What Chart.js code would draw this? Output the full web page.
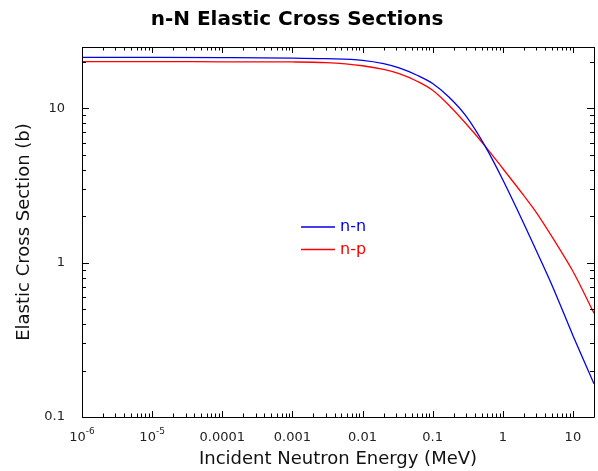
<!DOCTYPE html>
<html>
<head>
<meta charset="utf-8">
<script src="https://cdn.jsdelivr.net/npm/chart.js@4"></script>
<style>
html,body{margin:0;padding:0;background:#fff;}
#wrap{width:598px;height:471px;}
</style>
</head>
<body>
<div id="wrap"><canvas id="c" width="598" height="471"></canvas></div>
<script>
const energies = [1e-6, 1e-5, 1e-4, 1e-3, 3e-3, 0.01, 0.02, 0.0333, 0.06, 0.1, 0.172, 0.3, 0.56, 1, 2, 3, 5, 10, 20];
const nnValues = [21.4, 21.4, 21.35, 21.2, 21.0, 20.5, 19.5, 18.3, 16.4, 14.5, 11.8, 8.9, 5.69, 3.45, 1.79, 1.20, 0.72, 0.338, 0.164];
const npValues = [20.1, 20.1, 20.05, 20.0, 19.8, 18.9, 17.9, 16.8, 15.0, 13.1, 10.45, 7.95, 5.7, 4.08, 2.72, 2.12, 1.48, 0.88, 0.47];
const seriesLabels = ['n-n', 'n-p'];
const xMajorTicks = [1e-6, 1e-5, 1e-4, 1e-3, 0.01, 0.1, 1, 10];
const xTickLabels = ['10^-6', '10^-5', '0.0001', '0.001', '0.01', '0.1', '1', '10'];
const yMajorTicks = [0.1, 1, 10];
const yTickLabels = ['0.1', '1', '10'];

const FONT = '"DejaVu Sans", "Liberation Sans", sans-serif';
const BLUE = '#0000ee';
const RED = '#ff0000';

function logTicks(min, max) {
  const out = [];
  for (let e = Math.floor(Math.log10(min)); e <= Math.ceil(Math.log10(max)); e++) {
    for (let m = 1; m <= 9; m++) {
      const v = m * Math.pow(10, e);
      if (v >= min * 0.9999 && v <= max * 1.0001) out.push({value: v, major: m === 1});
    }
  }
  return out;
}

function isMajor(v, majors) {
  return majors.some(m => Math.abs(v / m - 1) < 1e-6);
}

const framePlugin = {
  id: 'frame',
  afterDraw(chart) {
    const ctx = chart.ctx;
    const a = chart.chartArea;
    const xs = chart.scales.x, ys = chart.scales.y;
    ctx.save();
    ctx.strokeStyle = '#000';
    ctx.lineWidth = 1;
    ctx.beginPath();
    ctx.rect(Math.round(a.left) + 0.5, Math.round(a.top) + 0.5, Math.round(a.right - a.left), Math.round(a.bottom - a.top));
    ctx.stroke();
    ctx.beginPath();
    xs.ticks.forEach(t => {
      const px = Math.round(xs.getPixelForValue(t.value)) + 0.5;
      const len = isMajor(t.value, xMajorTicks) ? 6 : 3.5;
      ctx.moveTo(px, a.bottom); ctx.lineTo(px, a.bottom - len);
      ctx.moveTo(px, a.top); ctx.lineTo(px, a.top + len);
    });
    ys.ticks.forEach(t => {
      const py = Math.round(ys.getPixelForValue(t.value)) + 0.5;
      const len = isMajor(t.value, yMajorTicks) ? 7 : 4;
      ctx.moveTo(a.left, py); ctx.lineTo(a.left + len, py);
      ctx.moveTo(a.right, py); ctx.lineTo(a.right - len, py);
    });
    ctx.stroke();
    ctx.fillStyle = '#222';
    ctx.textBaseline = 'alphabetic';
    const baseY = a.bottom + 24;
    xMajorTicks.forEach((v, i) => {
      const px = xs.getPixelForValue(v);
      const lab = xTickLabels[i];
      if (lab.indexOf('^') >= 0) {
        const [b, e] = lab.split('^');
        ctx.font = '13px ' + FONT;
        const wb = ctx.measureText(b).width;
        ctx.font = '9px ' + FONT;
        const we = ctx.measureText(e).width;
        const x0 = px - (wb + we) / 2;
        ctx.font = '13px ' + FONT;
        ctx.textAlign = 'left';
        ctx.fillText(b, x0, baseY);
        ctx.font = '9px ' + FONT;
        ctx.fillText(e, x0 + wb, baseY - 7);
      } else {
        ctx.font = '13px ' + FONT;
        ctx.textAlign = 'center';
        ctx.fillText(lab, px, baseY);
      }
    });
    const lx = a.left + 219, ly = a.top + 180;
    chart.data.datasets.forEach((ds, i) => {
      const y = ly + i * 22.5;
      ctx.strokeStyle = ds.borderColor;
      ctx.lineWidth = 1.3;
      ctx.beginPath();
      ctx.moveTo(lx, y); ctx.lineTo(lx + 34, y);
      ctx.stroke();
      ctx.fillStyle = ds.borderColor;
      ctx.font = '16px ' + FONT;
      ctx.textAlign = 'left';
      ctx.textBaseline = 'middle';
      ctx.fillText(ds.label, lx + 39, y);
    });
    ctx.restore();
  }
};

new Chart(document.getElementById('c'), {
  type: 'line',
  data: {
    datasets: [
      {label: seriesLabels[0], data: energies.map((e, i) => ({x: e, y: nnValues[i]})), borderColor: BLUE, borderWidth: 1.3, pointRadius: 0, cubicInterpolationMode: 'monotone', fill: false},
      {label: seriesLabels[1], data: energies.map((e, i) => ({x: e, y: npValues[i]})), borderColor: RED, borderWidth: 1.3, pointRadius: 0, cubicInterpolationMode: 'monotone', fill: false}
    ]
  },
  options: {
    responsive: false,
    animation: false,
    devicePixelRatio: 1,
    layout: {padding: {left: 0, right: 4, top: 0, bottom: 0}},
    plugins: {
      legend: {display: false},
      tooltip: {enabled: false},
      title: {display: true, text: 'n-N Elastic Cross Sections', color: '#000', font: {family: FONT, size: 20, weight: 'bold', lineHeight: 1.2}, padding: {top: 8, bottom: 15}}
    },
    scales: {
      x: {
        type: 'logarithmic', min: 1e-6, max: 20,
        afterBuildTicks(s) { s.ticks = logTicks(1e-6, 20); },
        afterFit(s) { s.height = 54; },
        grid: {display: false}, border: {display: false},
        ticks: {autoSkip: false, maxRotation: 0, callback: () => ''},
        title: {display: true, text: 'Incident Neutron Energy (MeV)', color: '#111', font: {family: FONT, size: 18, lineHeight: 1.2}, padding: {top: 0, bottom: 1}}
      },
      y: {
        type: 'logarithmic', min: 0.1, max: 25,
        afterBuildTicks(s) { s.ticks = logTicks(0.1, 25); },
        afterFit(s) { s.width = 82; },
        grid: {display: false}, border: {display: false},
        ticks: {autoSkip: false, padding: 9, color: '#222', font: {family: FONT, size: 13},
          callback: (v) => { const i = yMajorTicks.findIndex(m => Math.abs(v / m - 1) < 1e-6); return i >= 0 ? yTickLabels[i] : ''; }},
        title: {display: true, text: 'Elastic Cross Section (b)', color: '#111', font: {family: FONT, size: 18, lineHeight: 1.2}, padding: {top: 14, bottom: 0}}
      }
    }
  },
  plugins: [framePlugin]
});
</script>
</body>
</html>
